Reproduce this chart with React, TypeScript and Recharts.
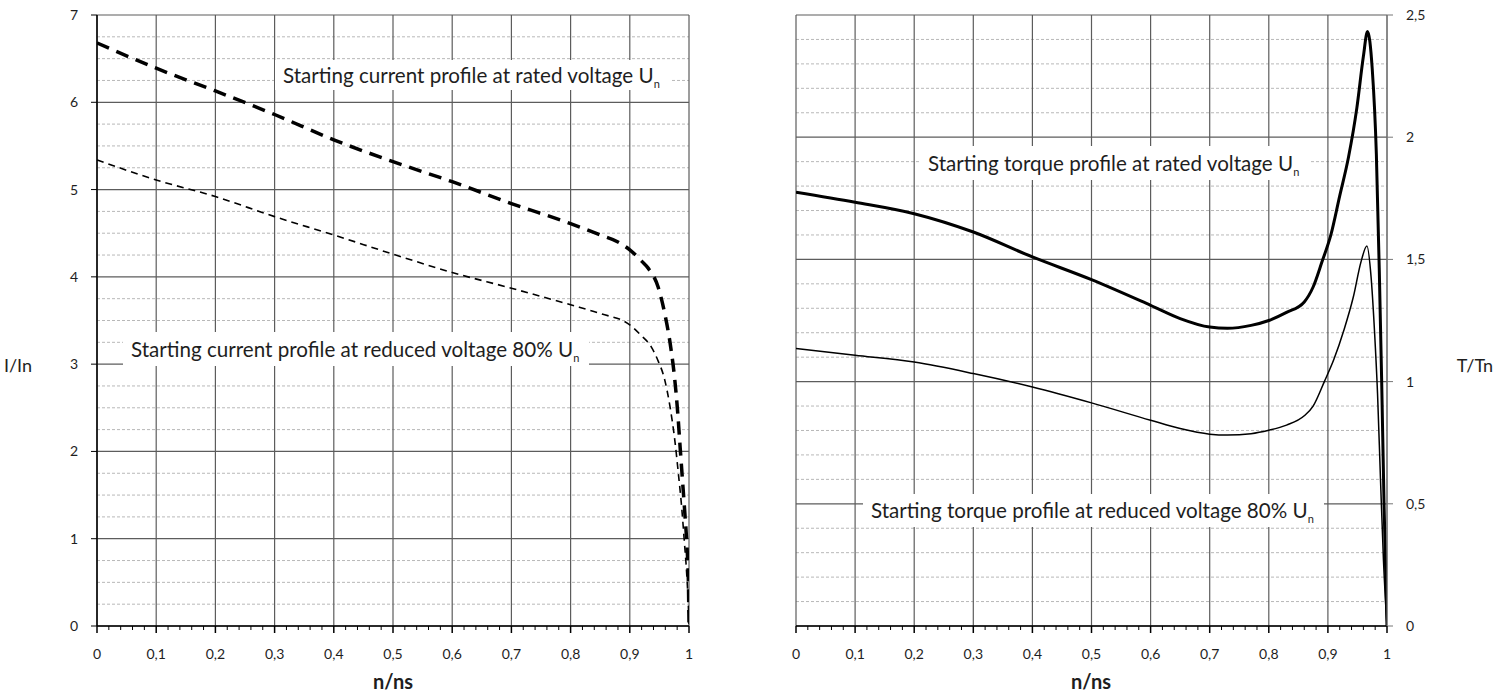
import React from "react";
import { LineChart, Line, XAxis, YAxis, CartesianGrid } from "recharts";

// left chart: starting current I/In against speed n/ns
const currentRatedSpeed = [0, 0.1, 0.2, 0.3, 0.4, 0.5, 0.6, 0.7, 0.8, 0.85, 0.88, 0.9, 0.92, 0.931, 0.948, 0.959, 0.969, 0.976, 0.981, 0.985, 0.989, 0.993, 0.9966, 0.9989, 1];
const currentRated = [6.68, 6.39, 6.13, 5.86, 5.57, 5.32, 5.09, 4.84, 4.61, 4.48, 4.4, 4.31, 4.18, 4.1, 3.88, 3.58, 3.2, 2.82, 2.44, 2.05, 1.67, 1.29, 0.91, 0.53, 0.04];

const currentReducedSpeed = [0, 0.1, 0.2, 0.3, 0.4, 0.5, 0.6, 0.7, 0.8, 0.85, 0.9, 0.919, 0.936, 0.947, 0.959, 0.968, 0.976, 0.982, 0.9875, 0.992, 0.996, 0.9989, 1];
const currentReduced = [5.34, 5.11, 4.92, 4.69, 4.48, 4.26, 4.05, 3.87, 3.68, 3.58, 3.45, 3.33, 3.2, 3.05, 2.82, 2.51, 2.13, 1.75, 1.37, 0.98, 0.61, 0.23, 0.02];

// right chart: starting torque T/Tn against speed n/ns
const torqueRatedSpeed = [0, 0.1, 0.2, 0.3, 0.4, 0.5, 0.6, 0.65, 0.7, 0.73, 0.77, 0.8, 0.83, 0.86, 0.875, 0.89, 0.905, 0.92, 0.935, 0.949, 0.96, 0.967, 0.975, 0.982, 0.987, 0.991, 0.995, 1];
const torqueRated = [1.775, 1.734, 1.687, 1.612, 1.51, 1.417, 1.312, 1.258, 1.223, 1.218, 1.23, 1.25, 1.283, 1.326, 1.387, 1.49, 1.6, 1.76, 1.92, 2.12, 2.33, 2.432, 2.28, 1.93, 1.45, 1.0, 0.5, 0];

const torqueReducedSpeed = [0, 0.1, 0.2, 0.3, 0.4, 0.5, 0.6, 0.65, 0.7, 0.73, 0.77, 0.8, 0.83, 0.86, 0.875, 0.894, 0.91, 0.927, 0.943, 0.956, 0.966, 0.973, 0.979, 0.984, 0.989, 0.994, 1];
const torqueReduced = [1.135, 1.108, 1.08, 1.033, 0.978, 0.913, 0.842, 0.808, 0.785, 0.781, 0.787, 0.801, 0.822, 0.86, 0.9, 1.0, 1.09, 1.21, 1.346, 1.49, 1.555, 1.43, 1.2, 0.95, 0.6, 0.27, 0];

const currentTicks = [0, 1, 2, 3, 4, 5, 6, 7];
const torqueTicks = [0, 0.5, 1, 1.5, 2, 2.5];
const speedMajor = [0, 0.1, 0.2, 0.3, 0.4, 0.5, 0.6, 0.7, 0.8, 0.9, 1];

// minor divisions (grid + small ticks)
const speedTicks = Array.from({ length: 51 }, (_, i) => Number((i / 50).toFixed(2)));
const currentMinor = Array.from({ length: 29 }, (_, i) => i / 4).filter((v) => v % 1 !== 0);
const torqueMinor = Array.from({ length: 26 }, (_, i) => Number((i / 10).toFixed(1))).filter((_, i) => i % 5 !== 0);

const FONT = "Lato, 'Open Sans', sans-serif";
const TXT = "#1e1e1e";

const toPoints = (xs: number[], ys: number[]) => xs.map((x, i) => ({ x, y: ys[i] }));
const fmt = (v: number) => String(v).replace(".", ",");

function SpeedTick(props: any) {
  const { x, y, payload } = props;
  const v = payload.value;
  const major = Math.round(v * 50) % 5 === 0;
  return (
    <g>
      <line x1={x} y1={y} x2={x} y2={y + (major ? 7 : 4)} stroke="#000" strokeWidth={major ? 1.5 : 1} />
      {major && (
        <text x={x} y={y + 33} textAnchor="middle" fontSize={14} fontFamily={FONT} fill={TXT}>
          {fmt(v)}
        </text>
      )}
    </g>
  );
}

function Note({ left, top, height, children }: { left: number; top: number; height: number; children: React.ReactNode }) {
  return (
    <div
      style={{
        position: "absolute",
        left,
        top,
        height,
        lineHeight: `${height}px`,
        padding: "0 10px 0 8px",
        background: "#fff",
        fontFamily: FONT,
        fontSize: 20.6,
        color: TXT,
        whiteSpace: "nowrap",
      }}
    >
      {children}
    </div>
  );
}

const Un = () => (
  <>
    U<span style={{ fontSize: 11, position: "relative", top: 5 }}>n</span>
  </>
);

const tickStyle = { fontSize: 14, fontFamily: FONT, fill: TXT };

export default function App() {
  return (
    <div style={{ position: "absolute", left: 0, top: 0, width: 1501, height: 695, background: "#fff", fontFamily: FONT }}>
      <LineChart width={720} height={695} margin={{ top: 15, right: 31, left: 0, bottom: 29 }} style={{ position: "absolute", left: 0, top: 0 }}>
        <CartesianGrid horizontalValues={currentMinor} vertical={false} stroke="#b8b8b8" strokeDasharray="3 2" />
        <CartesianGrid horizontalValues={currentTicks} verticalValues={speedMajor} stroke="#5c5c5c" strokeWidth={1.2} />
        <XAxis
          type="number"
          dataKey="x"
          domain={[0, 1]}
          allowDataOverflow
          ticks={speedTicks}
          interval={0}
          tickSize={0}
          tickMargin={0}
          tickLine={false}
          tick={SpeedTick}
          height={40}
          axisLine={{ stroke: "#000", strokeWidth: 1.5 }}
        />
        <YAxis
          type="number"
          domain={[0, 7]}
          ticks={currentTicks}
          interval={0}
          width={97}
          tickSize={6}
          tickMargin={13}
          tick={tickStyle}
          axisLine={{ stroke: "#000", strokeWidth: 1.5 }}
          tickLine={{ stroke: "#000" }}
        />
        <Line data={toPoints(currentRatedSpeed, currentRated)} dataKey="y" type="monotone" stroke="#000" strokeWidth={3.5} strokeDasharray="13 8" dot={false} activeDot={false} isAnimationActive={false} />
        <Line data={toPoints(currentReducedSpeed, currentReduced)} dataKey="y" type="monotone" stroke="#000" strokeWidth={1.6} strokeDasharray="7 5" dot={false} activeDot={false} isAnimationActive={false} />
      </LineChart>

      <LineChart width={741} height={695} margin={{ top: 15, right: 0, left: 36, bottom: 29 }} style={{ position: "absolute", left: 760, top: 0 }}>
        <CartesianGrid horizontalValues={torqueMinor} vertical={false} stroke="#b8b8b8" strokeDasharray="3 2" />
        <CartesianGrid horizontalValues={torqueTicks} verticalValues={speedMajor} stroke="#5c5c5c" strokeWidth={1.2} />
        <XAxis
          type="number"
          dataKey="x"
          domain={[0, 1]}
          allowDataOverflow
          ticks={speedTicks}
          interval={0}
          tickSize={0}
          tickMargin={0}
          tickLine={false}
          tick={SpeedTick}
          height={40}
          axisLine={{ stroke: "#000", strokeWidth: 1.5 }}
        />
        <YAxis
          orientation="right"
          type="number"
          domain={[0, 2.5]}
          ticks={torqueTicks}
          interval={0}
          width={114}
          tickSize={6}
          tickMargin={13}
          tick={tickStyle}
          tickFormatter={fmt}
          axisLine={{ stroke: "#777" }}
          tickLine={{ stroke: "#777" }}
        />
        <Line data={toPoints(torqueRatedSpeed, torqueRated)} dataKey="y" type="monotone" stroke="#000" strokeWidth={3} dot={false} activeDot={false} isAnimationActive={false} />
        <Line data={toPoints(torqueReducedSpeed, torqueReduced)} dataKey="y" type="monotone" stroke="#000" strokeWidth={1.5} dot={false} activeDot={false} isAnimationActive={false} />
      </LineChart>

      <Note left={275} top={60} height={30}>
        Starting current profile at rated voltage <Un />
      </Note>
      <Note left={123} top={332} height={34}>
        Starting current profile at reduced voltage 80% <Un />
      </Note>
      <Note left={920} top={146} height={34}>
        Starting torque profile at rated voltage <Un />
      </Note>
      <Note left={863} top={494} height={33}>
        Starting torque profile at reduced voltage 80% <Un />
      </Note>

      <div style={{ position: "absolute", left: 0, width: 36, top: 354, textAlign: "center", fontSize: 18, color: TXT }}>I/In</div>
      <div style={{ position: "absolute", left: 1450, width: 50, top: 354, textAlign: "center", fontSize: 18, color: TXT }}>T/Tn</div>
      <div style={{ position: "absolute", left: 343, width: 100, top: 669, textAlign: "center", fontSize: 20, fontWeight: 700, color: TXT }}>n/ns</div>
      <div style={{ position: "absolute", left: 1041, width: 100, top: 669, textAlign: "center", fontSize: 20, fontWeight: 700, color: TXT }}>n/ns</div>
    </div>
  );
}
